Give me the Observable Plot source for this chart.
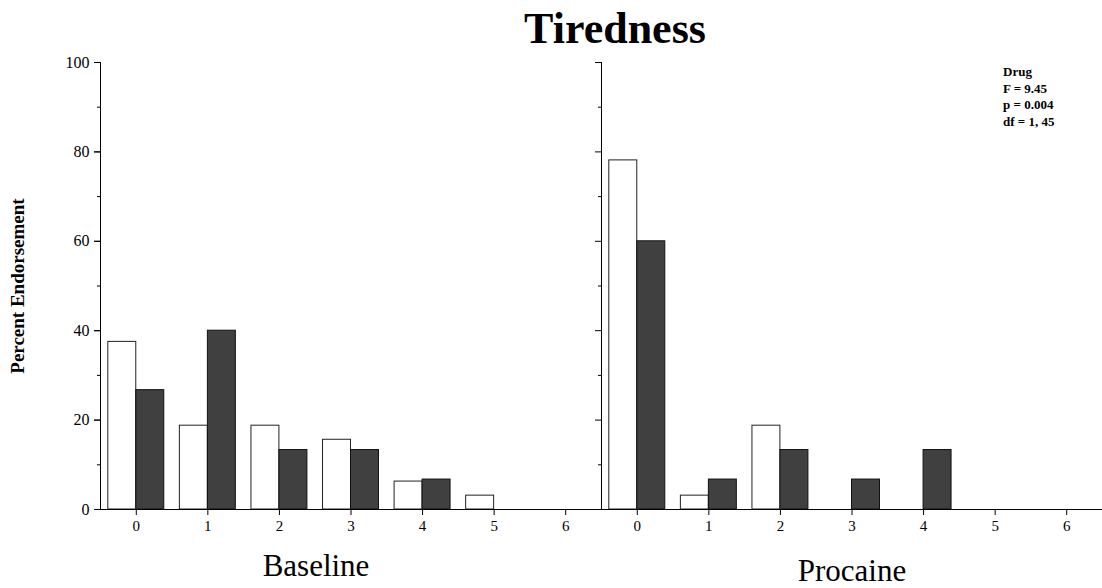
<!DOCTYPE html>
<html>
<head>
<meta charset="utf-8">
<script src="https://cdn.jsdelivr.net/npm/d3@7"></script>
<script src="https://cdn.jsdelivr.net/npm/@observablehq/plot@0.6"></script>
<style>
  html, body { margin: 0; padding: 0; background: #fff; }
  #wrap { position: relative; width: 1102px; height: 588px; font-family: "Liberation Serif", "Times New Roman", serif; color: #000; }
  #chart { position: absolute; left: 0; top: 0; }
  .title { position: absolute; left: 615px; top: 3px; transform: translateX(-50%); font-size: 44px; font-weight: bold; white-space: nowrap; }
  .ylab { position: absolute; left: 18px; top: 286px; transform: translate(-50%, -50%) rotate(-90deg); font-size: 19px; font-weight: bold; white-space: nowrap; }
  .panel { position: absolute; font-size: 31px; transform: translateX(-50%); white-space: nowrap; }
  .stats { position: absolute; left: 1003px; top: 64px; font-size: 13px; font-weight: bold; line-height: 16.5px; white-space: nowrap; }
</style>
</head>
<body>
<div id="wrap">
  <div id="chart"></div>
  <div class="title">Tiredness</div>
  <div class="ylab">Percent Endorsement</div>
  <div class="panel" style="left:316px; top:548px;">Baseline</div>
  <div class="panel" style="left:852px; top:553px;">Procaine</div>
  <div class="stats">Drug<br>F = 9.45<br>p = 0.004<br>df = 1, 45</div>
</div>
<script>
// ---- data ----
const categories = [0, 1, 2, 3, 4, 5, 6];
const panels = ["Baseline", "Procaine"];
const baselineWhite = [37.5, 18.75, 18.75, 15.6, 6.25, 3.1, 0];
const baselineDark  = [26.7, 40.0, 13.3, 13.3, 6.7, 0, 0];
const procaineWhite = [78.1, 3.1, 18.75, 0, 0, 0, 0];
const procaineDark  = [60.0, 6.7, 13.3, 6.7, 13.3, 0, 0];
const yMajorTicks = [0, 20, 40, 60, 80, 100];
const yMinorTicks = [10, 30, 50, 70, 90];

// build tables
function rows(panel, values) {
  return categories.map((c, i) => ({panel, cat: c, value: values[i]})).filter(d => d.value > 0);
}
const whiteRows = [...rows("Baseline", baselineWhite), ...rows("Procaine", procaineWhite)];
const darkRows  = [...rows("Baseline", baselineDark),  ...rows("Procaine", procaineDark)];

const half = 28;
const chart = Plot.plot({
  width: 1102,
  height: 588,
  marginTop: 62,
  marginBottom: 79,
  marginLeft: 100,
  marginRight: 0,
  style: {fontFamily: "Liberation Serif, Times New Roman, serif", fontSize: "15px", color: "#000", background: "transparent"},
  fx: {domain: panels, padding: 0, round: false, axis: null},
  x: {domain: categories, paddingInner: 0.218, paddingOuter: 0.109, round: false, axis: null},
  y: {domain: [0, 100], axis: null},
  marks: [
    Plot.barY(whiteRows, {fx: "panel", x: "cat", y: "value", fill: "white", stroke: "#222", strokeWidth: 1, insetRight: half}),
    Plot.barY(darkRows,  {fx: "panel", x: "cat", y: "value", fill: "#404040", stroke: "#111", strokeWidth: 1, insetLeft: half}),
    Plot.ruleY([0], {stroke: "#000", strokeWidth: 1}),
    Plot.frame({anchor: "left", stroke: "#000", strokeWidth: 1}),
    Plot.axisY({ticks: yMajorTicks, tickSize: 6, tickPadding: 5, fontSize: 16, label: null, stroke: "#000"}),
    Plot.axisY({ticks: yMajorTicks, tickSize: 6, tickFormat: () => "", label: null, facetAnchor: null, stroke: "#000"}),
    Plot.axisY({ticks: yMinorTicks, tickSize: 3, tickFormat: () => "", label: null, facetAnchor: null, stroke: "#000"}),
    Plot.axisX({tickSize: 6, tickPadding: 5, fontSize: 15, label: null, facetAnchor: null, stroke: "#000"})
  ]
});
document.getElementById("chart").appendChild(chart);
</script>
</body>
</html>
